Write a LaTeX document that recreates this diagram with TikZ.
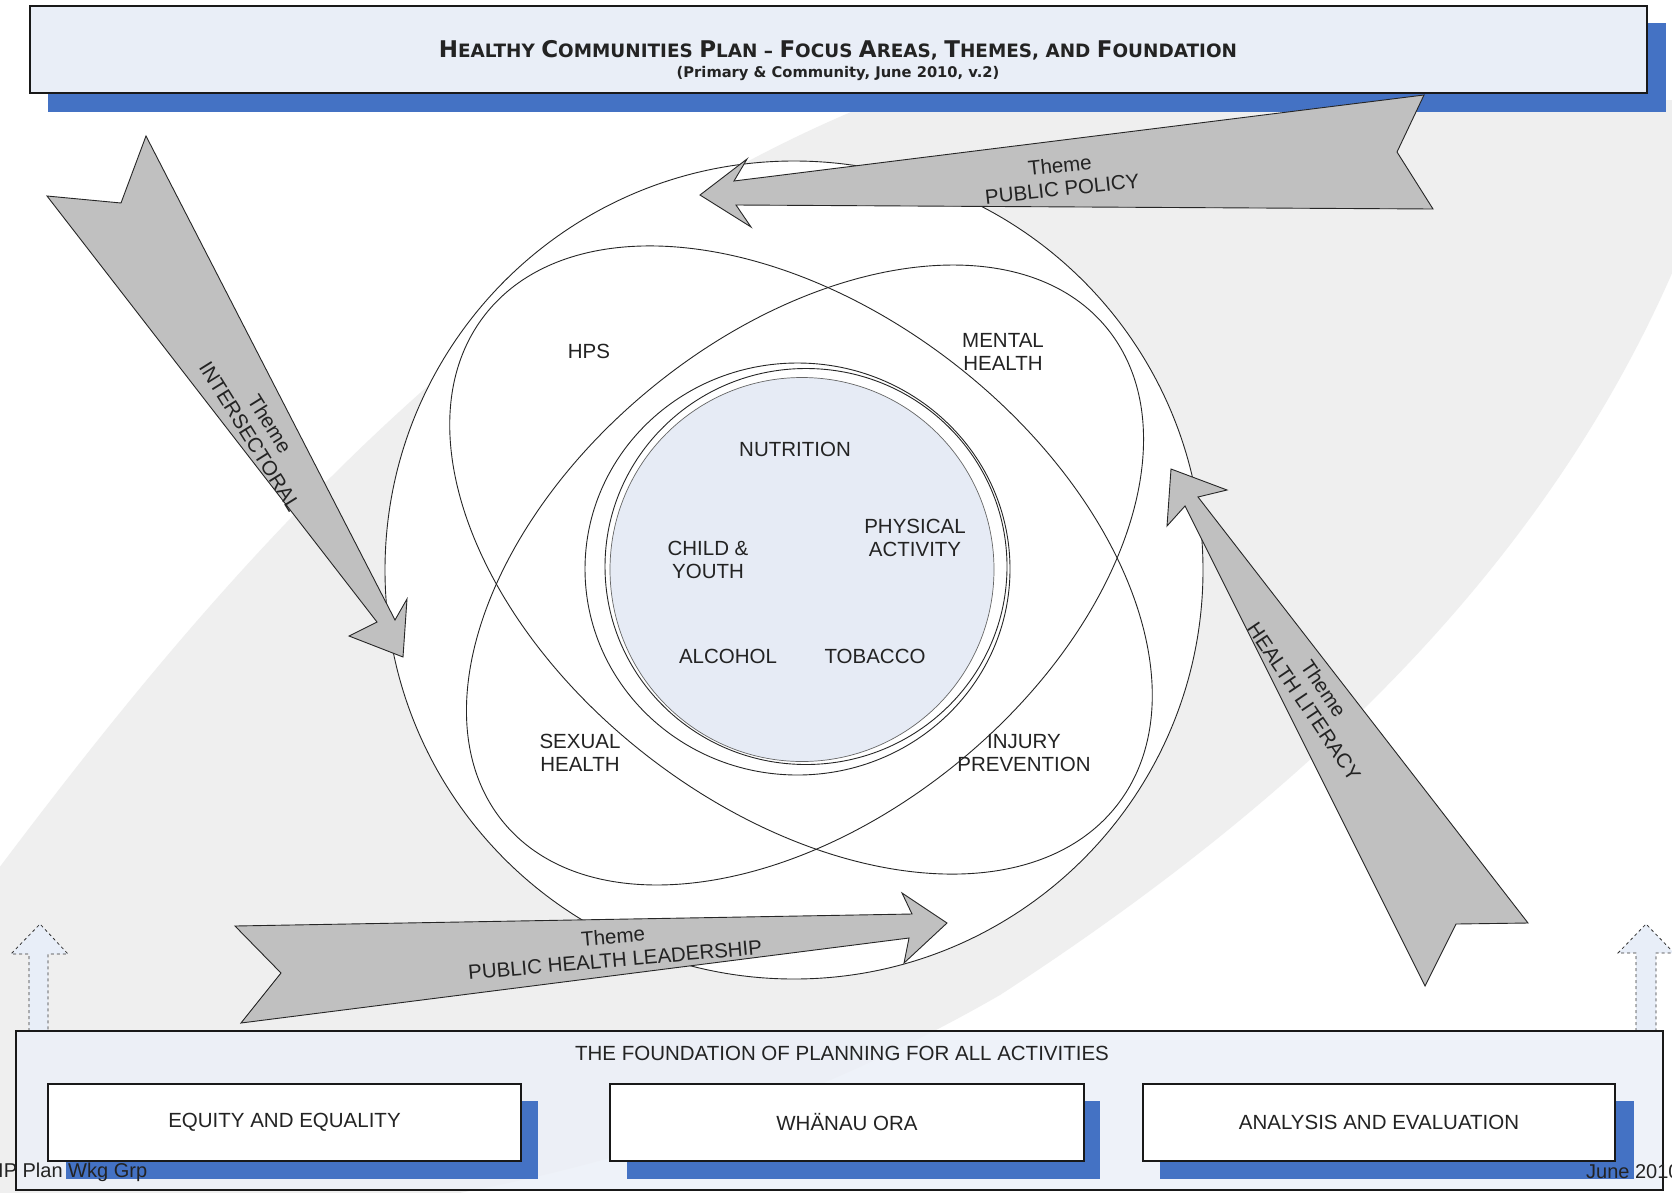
\documentclass[tikz,border=0pt]{standalone}
\usepackage{fontspec}
\setmainfont{Liberation Sans}
\newfontfamily\titlefont{DejaVu Sans}

\definecolor{shadowblue}{RGB}{68,114,196}
\definecolor{panelfill}{RGB}{233,238,247}
\definecolor{basefill}{RGB}{236,240,248}
\definecolor{corefill}{RGB}{230,235,245}
\definecolor{arrowgray}{RGB}{192,192,192}
\definecolor{swoosh}{RGB}{239,239,239}
\definecolor{inkgray}{RGB}{35,35,35}
\definecolor{upfill}{RGB}{232,238,248}

% enlarged initial letter for the title's small-caps look
\newcommand\initcap[1]{{\fontsize{23}{23}\selectfont #1}}

\begin{document}
\begin{tikzpicture}[x=1pt,y=-1pt,
  themearrow/.style={fill=arrowgray, draw=black!85, line width=0.9pt, line join=miter},
  ring/.style={draw=black!85, line width=0.9pt},
  lbl/.style={font=\fontsize{20.5}{23.5}\selectfont, text=inkgray, align=center, inner sep=0pt},
  panel/.style={draw=black!90, line width=1.3pt, fill=white, inner sep=0pt},
  uparrow/.style={fill=upfill, draw=black!80, dashed, line width=0.8pt}]

\useasboundingbox (0,0) rectangle (1672,1192);
\fill[white] (0,0) rectangle (1672,1192);

% soft grey swoosh in the background
\fill[swoosh] (-10,880) .. controls (200,600) and (480,260) .. (880,100)
  -- (1690,100) -- (1690,230)
  .. controls (1560,560) and (1300,800) .. (1000,995)
  .. controls (800,1110) and (600,1170) .. (420,1200)
  -- (-10,1200) -- cycle;

% title banner
\fill[shadowblue] (48,23) rectangle (1666,112);
\node[draw=black!90, line width=1.5pt, fill=panelfill, minimum width=1617pt,
      minimum height=87pt, inner sep=0pt] (titlebox) at (838.5,49.5) {};
\node[inner sep=0pt, text=inkgray] (title) at (838,50)
  {\titlefont\bfseries\fontsize{18.4}{22}\selectfont
   \initcap{H}EALTHY \initcap{C}OMMUNITIES \initcap{P}LAN – \initcap{F}OCUS
   \initcap{A}REAS, \initcap{T}HEMES, AND \initcap{F}OUNDATION};
\node[inner sep=0pt, text=inkgray] (subtitle) at (838,73)
  {\titlefont\bfseries\fontsize{14.7}{18}\selectfont (Primary \& Community, June 2010, v.2)};

% focus areas: outer circle, two crossing ellipses, core rings
\draw[ring, fill=white] (794,570) circle [radius=409];
\fill[corefill] (802,569.5) circle [radius=192];
\draw[ring, rotate around={-37.7:(801,560)}] (801,560) ellipse [x radius=400, y radius=249];
\draw[ring, rotate around={39.3:(805,575)}] (805,575) ellipse [x radius=390, y radius=242];
\draw[ring] (797.5,569) ellipse [x radius=212.5, y radius=206];
\draw[ring] (806,566.5) ellipse [x radius=201, y radius=198];
\draw[draw=black!60, line width=0.7pt] (802,569.5) circle [radius=192];

\node[lbl] (hps) at (589,351) {HPS};
\node[lbl] (mental) at (1003,352) {MENTAL\\HEALTH};
\node[lbl] (nutrition) at (795,449) {NUTRITION};
\node[lbl] (child) at (708,560) {CHILD \&\\YOUTH};
\node[lbl] (physical) at (915,538) {PHYSICAL\\ACTIVITY};
\node[lbl] (alcohol) at (728,656) {ALCOHOL};
\node[lbl] (tobacco) at (875,656) {TOBACCO};
\node[lbl] (sexual) at (580,753) {SEXUAL\\HEALTH};
\node[lbl] (injury) at (1024,753) {INJURY\\PREVENTION};

% theme arrows
\filldraw[themearrow] (700,195) -- (747,159) -- (734,181) -- (1424,95) -- (1397,152)
  -- (1433,209) -- (736,205) -- (751,227) -- cycle;
\node[lbl, rotate=6] (policy) at (1061,177) {Theme\\PUBLIC POLICY};

\filldraw[themearrow] (146,136) -- (395,620) -- (407,599) -- (403,657) -- (349,636)
  -- (377,622) -- (47,196) -- (121,203) -- cycle;
\node[lbl, rotate=-58] (intersect) at (260,430) {Theme\\INTERSECTORAL};

\filldraw[themearrow] (1171,469) -- (1227,490) -- (1198,497) -- (1528,923) -- (1456,924)
  -- (1425,986) -- (1185,506) -- (1167,526) -- cycle;
\node[lbl, rotate=-56] (literacy) at (1314,695) {Theme\\HEALTH LITERACY};

\filldraw[themearrow] (235,926) -- (912,914) -- (902,893) -- (947,923) -- (904,963)
  -- (909,938) -- (241,1023) -- (281,973) -- cycle;
\node[lbl, rotate=5] (leadership) at (614,948) {Theme\\PUBLIC HEALTH LEADERSHIP};

% dashed upward arrows at both sides
\filldraw[uparrow] (29,1031) -- (29,954) -- (11,954) -- (40,924) -- (68,954) -- (48,954) -- (48,1031);
\filldraw[uparrow] (1636,1031) -- (1636,953) -- (1618,953) -- (1646,924) -- (1674,953) -- (1656,953) -- (1656,1031);

% foundation panel
\node[draw=black!90, line width=1.2pt, fill=basefill, fill opacity=0.85, minimum width=1647pt,
      minimum height=159pt, inner sep=0pt] (base) at (839.5,1110.5) {};
\node[lbl] (basetitle) at (842,1053) {THE FOUNDATION OF PLANNING FOR ALL ACTIVITIES};

\fill[shadowblue] (66,1101) rectangle (538,1179);
\fill[shadowblue] (627,1101) rectangle (1100,1179);
\fill[shadowblue] (1160,1101) rectangle (1634,1179);
\node[panel, minimum width=473pt, minimum height=77pt, font=\fontsize{20.5}{23.5}\selectfont, text=inkgray]
  (equity) at (284.5,1122.5) {EQUITY AND EQUALITY};
\node[panel, minimum width=474pt, minimum height=77pt, font=\fontsize{20.5}{23.5}\selectfont, text=inkgray]
  (whanau) at (847,1122.5) {WHÄNAU ORA};
\node[panel, minimum width=472pt, minimum height=77pt, font=\fontsize{20.5}{23.5}\selectfont, text=inkgray]
  (analysis) at (1379,1122.5) {ANALYSIS AND EVALUATION};

\node[lbl, anchor=west, font=\fontsize{20}{22}\selectfont] (group) at (-2,1172) {IP Plan Wkg Grp};
\node[lbl, anchor=west, font=\fontsize{20}{22}\selectfont] (date) at (1586,1172) {June 2010};
\end{tikzpicture}
\end{document}
